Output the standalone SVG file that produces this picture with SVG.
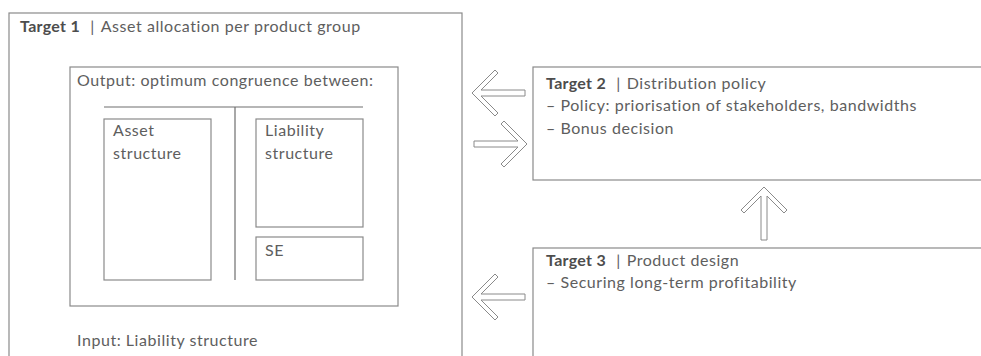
<svg xmlns="http://www.w3.org/2000/svg" width="981" height="356" viewBox="0 0 981 356">
  <style>
    .box { fill: none; stroke: #8a8a8a; stroke-width: 1.2; }
    .rule { fill: none; stroke: #6e6e6e; stroke-width: 1.2; }
    .arrow { fill: #ffffff; stroke: #8a8a8a; stroke-width: 1; stroke-linejoin: miter; }
    text { font-family: Lato, "Open Sans", sans-serif; font-size: 16px; letter-spacing: 0.55px; fill: #5e5e5e; }
    .b { font-weight: 700; letter-spacing: 0.3px; fill: #4d4d4d; }
  </style>
  <defs>
    <!-- hollow block arrow pointing left, tip at origin -->
    <polygon id="blockArrow" points="0,0 23,-23 26,-20 9,-3 53,-3 53,3 9,3 26,20 23,23"/>
  </defs>

  <rect width="981" height="356" fill="#ffffff"/>

  <g id="target1">
    <rect class="box" x="9" y="13" width="453" height="360"/>
    <text x="20" y="32"><tspan class="b">Target 1</tspan><tspan dx="10">|</tspan><tspan dx="6">Asset allocation per product group</tspan></text>
    <text x="77" y="346">Input: Liability structure</text>
  </g>

  <g id="output">
    <rect class="box" x="70" y="67" width="328" height="239"/>
    <text x="77" y="86">Output: optimum congruence between:</text>
    <line class="rule" x1="104" y1="107" x2="363" y2="107"/>
    <line class="rule" x1="235" y1="107" x2="235" y2="280"/>
  </g>

  <g id="asset">
    <rect class="box" x="104" y="119" width="107" height="161"/>
    <text x="113" y="136">Asset</text>
    <text x="113" y="159">structure</text>
  </g>

  <g id="liability">
    <rect class="box" x="256" y="119" width="107" height="108"/>
    <text x="265" y="136">Liability</text>
    <text x="265" y="159">structure</text>
  </g>

  <g id="se">
    <rect class="box" x="256" y="237" width="107" height="43"/>
    <text x="265" y="256">SE</text>
  </g>

  <g id="target2">
    <rect class="box" x="533" y="67" width="460" height="113"/>
    <text x="546" y="89"><tspan class="b">Target 2</tspan><tspan dx="10">|</tspan><tspan dx="6">Distribution policy</tspan></text>
    <text x="546" y="111">– Policy: priorisation of stakeholders, bandwidths</text>
    <text x="546" y="134">– Bonus decision</text>
  </g>

  <g id="target3">
    <rect class="box" x="533" y="248" width="460" height="130"/>
    <text x="546" y="266"><tspan class="b">Target 3</tspan><tspan dx="10">|</tspan><tspan dx="6">Product design</tspan></text>
    <text x="546" y="288">– Securing long-term profitability</text>
  </g>

  <g id="connectors">
    <use href="#blockArrow" class="arrow" transform="translate(472,93)"/>
    <use href="#blockArrow" class="arrow" transform="translate(527,144) scale(-1,1)"/>
    <use href="#blockArrow" class="arrow" transform="translate(764,187) rotate(90)"/>
    <use href="#blockArrow" class="arrow" transform="translate(472,297)"/>
  </g>
</svg>
